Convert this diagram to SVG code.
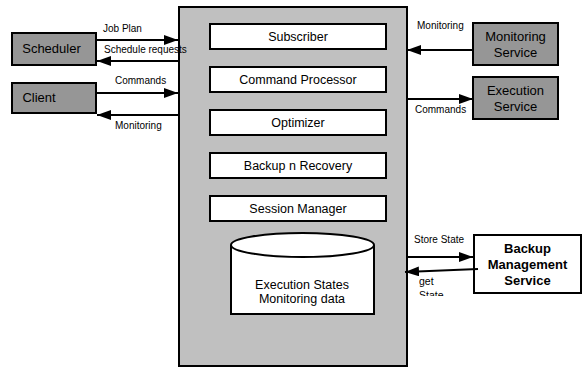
<svg xmlns="http://www.w3.org/2000/svg" width="583" height="375" viewBox="0 0 583 375">
<style>
text{font-family:"Liberation Sans",Arial,sans-serif;fill:#000}
.lbl{font-size:10px}
.nt{font-size:13px;text-anchor:middle}
.it{font-size:12.5px;text-anchor:middle}
.bx{stroke:#000;stroke-width:2}
.ln{stroke:#000;stroke-width:2;fill:none}
</style>
<defs>
<marker id="ah" viewBox="0 0 14 10" refX="14" refY="5" markerWidth="14" markerHeight="10" markerUnits="userSpaceOnUse" orient="auto">
<path d="M0,0 L14,5 L0,10 Z" fill="#000"/>
</marker>
<clipPath id="clipGS"><rect x="400" y="274" width="80" height="22"/></clipPath>
</defs>
<rect width="583" height="375" fill="#fff"/>
<g id="main">
<rect x="179" y="7" width="228" height="359" fill="#c0c0c0" class="bx"/>
</g>
<g id="subscriber"><rect x="210" y="24" width="176" height="25" fill="#fff" class="bx"/><text class="it" x="298" y="41">Subscriber</text></g>
<g id="command-processor"><rect x="210" y="67" width="176" height="25" fill="#fff" class="bx"/><text class="it" x="298" y="84">Command Processor</text></g>
<g id="optimizer"><rect x="210" y="110" width="176" height="25" fill="#fff" class="bx"/><text class="it" x="298" y="127">Optimizer</text></g>
<g id="backup-recovery"><rect x="210" y="153" width="176" height="25" fill="#fff" class="bx"/><text class="it" x="298" y="170">Backup n Recovery</text></g>
<g id="session-manager"><rect x="210" y="196" width="176" height="25" fill="#fff" class="bx"/><text class="it" x="298" y="213">Session Manager</text></g>
<g id="datastore">
<path d="M231,245 L231,314 L374,314 L374,245" fill="#fff" stroke="#000" stroke-width="2"/>
<ellipse cx="302.5" cy="245" rx="71.5" ry="12" fill="#fff" stroke="#000" stroke-width="2"/>
<text class="it" x="302" y="289">Execution States</text>
<text class="it" x="302" y="303">Monitoring data</text>
</g>
<g id="scheduler"><rect x="12" y="33" width="84" height="32" fill="#969696" class="bx"/><text class="nt" x="51.5" y="53">Scheduler</text></g>
<g id="client"><rect x="12" y="83" width="84" height="30" fill="#969696" class="bx"/><text class="nt" x="39" y="102">Client</text></g>
<g id="monitoring-service"><rect x="473" y="23" width="85" height="42" fill="#969696" class="bx"/><text class="nt" x="515.5" y="41">Monitoring</text><text class="nt" x="515.5" y="57">Service</text></g>
<g id="execution-service"><rect x="473" y="77" width="85" height="42" fill="#969696" class="bx"/><text class="nt" x="515.5" y="95">Execution</text><text class="nt" x="515.5" y="111">Service</text></g>
<g id="backup-management-service"><rect x="474" y="235" width="107" height="58" fill="#fff" class="bx"/><text class="nt" x="527.5" y="253" font-weight="bold">Backup</text><text class="nt" x="527.5" y="269" font-weight="bold">Management</text><text class="nt" x="527.5" y="285" font-weight="bold">Service</text></g>
<g id="connectors">
<line class="ln" x1="96" y1="40" x2="178" y2="40" marker-end="url(#ah)"/>
<line class="ln" x1="179" y1="61" x2="97" y2="61" marker-end="url(#ah)"/>
<line class="ln" x1="96" y1="93" x2="178" y2="93" marker-end="url(#ah)"/>
<line class="ln" x1="179" y1="115" x2="97" y2="115" marker-end="url(#ah)"/>
<line class="ln" x1="472" y1="50" x2="407" y2="50" marker-end="url(#ah)"/>
<line class="ln" x1="407" y1="99" x2="473" y2="99" marker-end="url(#ah)"/>
<line class="ln" x1="407" y1="257" x2="473" y2="257" marker-end="url(#ah)"/>
<line class="ln" x1="478" y1="269" x2="405" y2="272" marker-end="url(#ah)"/>
<text class="lbl" x="103" y="32">Job Plan</text>
<text class="lbl" x="104" y="53">Schedule requests</text>
<text class="lbl" x="115" y="84">Commands</text>
<text class="lbl" x="115" y="129">Monitoring</text>
<text class="lbl" x="417" y="29">Monitoring</text>
<text class="lbl" x="415" y="113">Commands</text>
<text class="lbl" x="414" y="243">Store State</text>
<text x="419" y="285" font-family="'Liberation Serif','Times New Roman',serif" font-size="10.5">get</text>
<text x="419" y="299" font-family="'Liberation Serif','Times New Roman',serif" font-size="10.5" clip-path="url(#clipGS)">State</text>
</g>
</svg>
